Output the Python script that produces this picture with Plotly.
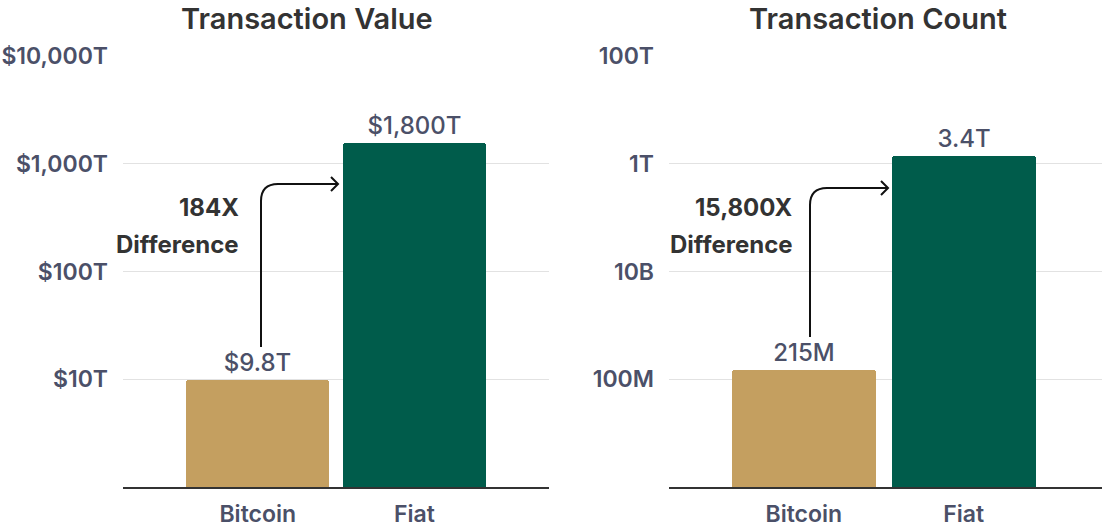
import plotly.graph_objects as go
from plotly.subplots import make_subplots

# data
categories = ["Bitcoin", "Fiat"]
value_heights = [9.8e12, 1.55e15]          # bar heights as drawn (dollars)
value_labels = ["$9.8T", "$1,800T"]
count_heights = [1.5e8, 1.42e12]           # bar heights as drawn (transactions)
count_labels = ["215M", "3.4T"]

value_ticks = [1e13, 1e14, 1e15, 1e16]
value_ticktext = ["$10T", "$100T", "$1,000T", "$10,000T"]
count_ticks = [1e8, 1e10, 1e12, 1e14]
count_ticktext = ["100M", "10B", "1T", "100T"]

bar_colors = ["#C49F60", "#005C4B"]
label_col = "#4B5068"
dark = "#333333"
FONT = "Inter"

W, H = 1102, 527
ML, MR, MT, MB = 123, 0, 56, 40


def px(x, y):
    # page pixel -> paper coords
    return (x - ML) / (W - ML - MR), (H - MB - y) / (H - MT - MB)


def arrow_path(x0, y_bottom, y_top, x_tip, r=17):
    pts = [px(x0, y_bottom), px(x0, y_top + r), px(x0, y_top), px(x0 + r, y_top), px(x_tip, y_top)]
    p = "M {0[0]},{0[1]} L {1[0]},{1[1]} Q {2[0]},{2[1]} {3[0]},{3[1]} L {4[0]},{4[1]}".format(*pts)
    a, b, c = px(x_tip - 7, y_top - 7), px(x_tip, y_top), px(x_tip - 7, y_top + 7)
    head = "M {0[0]},{0[1]} L {1[0]},{1[1]} L {2[0]},{2[1]}".format(a, b, c)
    return p, head


fig = make_subplots(rows=1, cols=2)

fig.add_trace(go.Bar(x=[0, 1], y=value_heights, text=value_labels, width=0.915,
                     marker=dict(color=bar_colors, cornerradius=3, line_width=0)), row=1, col=1)
fig.add_trace(go.Bar(x=[0, 1], y=count_heights, text=count_labels, width=0.897,
                     marker=dict(color=bar_colors, cornerradius=3, line_width=0)), row=1, col=2)
fig.update_traces(textposition="outside", cliponaxis=False,
                  textfont=dict(family=FONT, size=24, color=label_col, weight=500),
                  showlegend=False, hoverinfo="skip")

pw = W - ML - MR
tickfont = dict(family=FONT, size=23, color=label_col, weight=600)
fig.update_xaxes(tickvals=[0, 1], ticktext=categories, tickfont=tickfont,
                 showgrid=False, zeroline=False, showline=True, linecolor="#333333",
                 linewidth=1.5, ticks="", ticklabelstandoff=6)
fig.update_xaxes(domain=[0, 426 / pw], range=[-0.86, 1.859], row=1, col=1)
fig.update_xaxes(domain=[546 / pw, 1], range=[-0.8425, 1.864], row=1, col=2)

fig.update_yaxes(type="log", tickfont=tickfont, showgrid=True, gridcolor="#E2E2E2", gridwidth=1,
                 zeroline=False, showline=False, ticks="", ticklabelstandoff=14)
fig.update_yaxes(range=[12, 16], tickvals=value_ticks, ticktext=value_ticktext, row=1, col=1)
fig.update_yaxes(range=[6, 14], tickvals=count_ticks, ticktext=count_ticktext, row=1, col=2)

shapes = []
for (x0, yb, yt, xt) in [(261, 347, 184, 338), (810, 337, 188, 888)]:
    p, head = arrow_path(x0, yb, yt, xt)
    for d in (p, head):
        shapes.append(dict(type="path", path=d, xref="paper", yref="paper",
                           line=dict(color="#111111", width=2)))

annotations = []
for text, x, y in [("Transaction Value", 307, 18), ("Transaction Count", 878, 18)]:
    ax, ay = px(x, y)
    annotations.append(dict(text=text, x=ax, y=ay, xref="paper", yref="paper", showarrow=False,
                            xanchor="center", yanchor="middle",
                            font=dict(family=FONT, size=29, color=dark, weight=600)))
for text, x, y in [("184X", 241, 207), ("Difference", 241, 244),
                   ("15,800X", 795, 207), ("Difference", 795, 244)]:
    ax, ay = px(x, y)
    annotations.append(dict(text=text, x=ax, y=ay, xref="paper", yref="paper", showarrow=False,
                            xanchor="right", yanchor="middle",
                            font=dict(family=FONT, size=24, color=dark, weight=700)))

fig.update_layout(width=W, height=H, margin=dict(l=ML, r=MR, t=MT, b=MB, autoexpand=False),
                  plot_bgcolor="white", paper_bgcolor="white",
                  shapes=shapes, annotations=annotations, bargap=0)

# drop the default 8px body margin so the figure fills the window exactly
fig.write_html("out.html", config={"displayModeBar": False},
               post_script="document.body.style.margin='0';")
